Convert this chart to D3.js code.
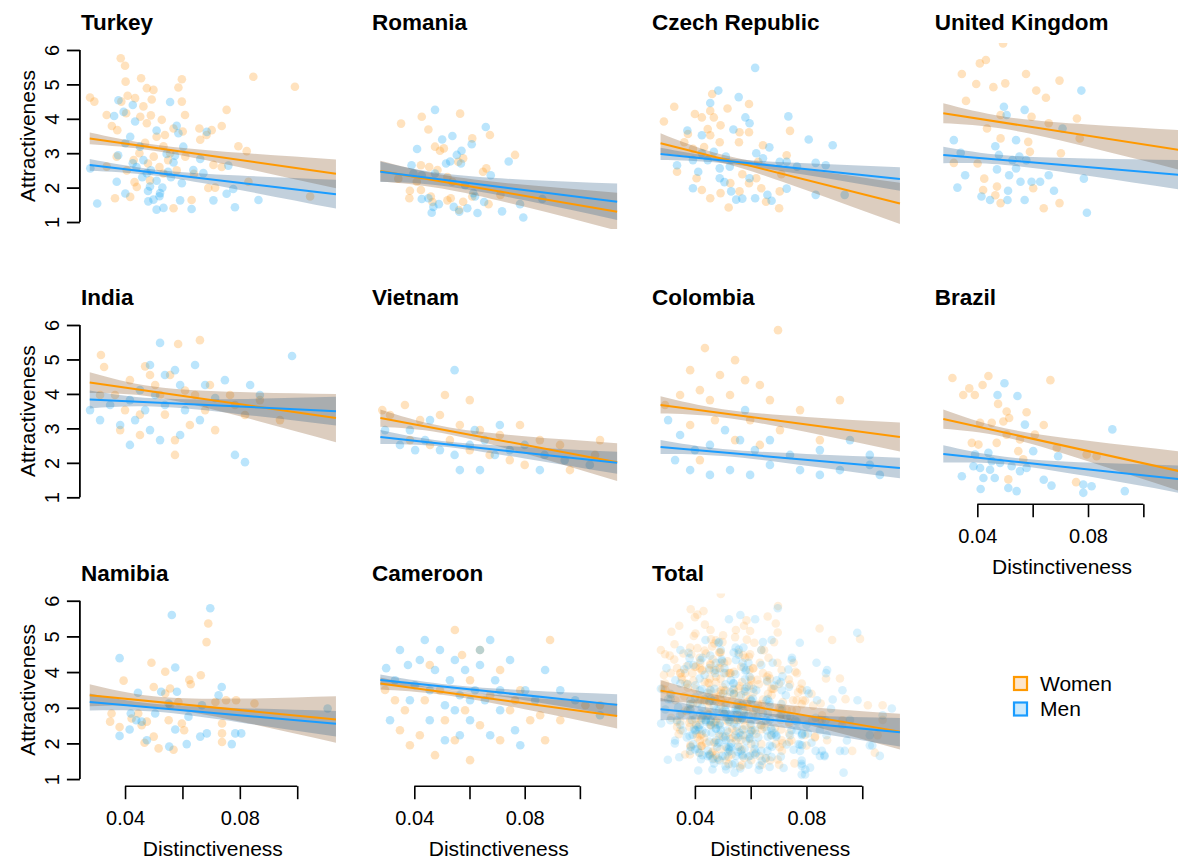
<!DOCTYPE html>
<html>
<head>
<meta charset="utf-8">
<script src="https://cdn.jsdelivr.net/npm/d3@7"></script>
<style>
  body { margin: 0; background: #fff; }
  svg { display: block; font-family: "Liberation Sans", Arial, sans-serif; }
</style>
</head>
<body>
<svg id="chart" width="1178" height="861"></svg>
<script>
// Panels, in reading order.
const countries = ["Turkey", "Romania", "Czech Republic", "United Kingdom", "India", "Vietnam",
  "Colombia", "Brazil", "Namibia", "Cameroon", "Total"];

const xRange = [0.0277, 0.1135];          // range of distinctiveness in the data
const bandKnots = [0.0277, 0.05, 0.08, 0.1135];
const yTicks = [1, 2, 3, 4, 5, 6];
const xTicks = [0.04, 0.06, 0.08, 0.10];
const xTickLabels = ["0.04", "", "0.08", ""];

// Fitted attractiveness at xRange[0] and xRange[1].
const womenFit = [[3.43, 2.40], [2.48, 1.30], [3.29, 1.54], [4.16, 3.09], [4.33, 3.30], [3.30, 2.02],
  [3.68, 2.75], [3.27, 1.75], [3.35, 2.67], [3.68, 2.77], [3.48, 2.33]];
const menFit = [[2.66, 1.81], [2.46, 1.59], [2.98, 2.25], [2.95, 2.37], [3.84, 3.50], [2.75, 2.00],
  [2.46, 1.85], [2.26, 1.52], [3.16, 2.55], [3.78, 3.08], [2.96, 2.31]];
// Half width of the confidence band at bandKnots.
const womenCI = [[0.17, 0.09, 0.21, 0.42], [0.30, 0.20, 0.32, 0.55], [0.29, 0.12, 0.30, 0.60],
  [0.29, 0.18, 0.33, 0.58], [0.30, 0.15, 0.35, 0.70], [0.25, 0.10, 0.25, 0.55],
  [0.25, 0.12, 0.22, 0.42], [0.28, 0.13, 0.30, 0.58], [0.31, 0.15, 0.32, 0.65],
  [0.17, 0.08, 0.17, 0.35], [0.30, 0.15, 0.25, 0.50]];
const menCI = [[0.17, 0.09, 0.21, 0.42], [0.30, 0.18, 0.30, 0.53], [0.18, 0.08, 0.17, 0.34],
  [0.24, 0.14, 0.25, 0.43], [0.26, 0.12, 0.22, 0.42], [0.20, 0.08, 0.17, 0.32],
  [0.20, 0.10, 0.17, 0.30], [0.25, 0.11, 0.20, 0.40], [0.24, 0.11, 0.20, 0.36],
  [0.15, 0.07, 0.14, 0.30], [0.31, 0.15, 0.22, 0.40]];

// Observations [distinctiveness, attractiveness].
const turkeyWomen = [[0.0278,4.62],[0.0293,4.50],[0.0336,4.11],[0.0354,3.79],[0.0373,3.67],[0.0365,1.69],
  [0.0385,5.76],[0.0400,5.54],[0.0402,5.08],[0.0409,4.67],[0.0387,4.50],[0.0404,4.16],[0.0435,4.60],
  [0.0456,5.18],[0.0476,4.89],[0.0499,4.84],[0.0493,4.56],[0.0464,4.36],[0.0453,4.06],[0.0476,3.87],
  [0.0490,4.10],[0.0510,3.48],[0.0539,3.53],[0.0534,3.20],[0.0557,3.00],[0.0598,5.15],[0.0586,4.91],
  [0.0598,4.50],[0.0609,4.11],[0.0601,3.63],[0.0659,3.72],[0.0684,3.53],[0.0702,3.67],[0.0737,3.79],
  [0.0754,4.26],[0.0795,3.20],[0.0824,3.06],[0.0847,5.22],[0.0992,4.93],[0.0830,2.17],[0.0737,2.60],
  [0.0714,2.00],[0.0690,1.99],[0.0632,1.64],[0.0569,1.40],[0.1045,1.74],[0.0534,2.41],[0.0487,2.21],
  [0.0441,2.02],[0.0418,1.73],[0.0406,2.50],[0.0336,2.61],[0.0371,2.90],[0.0433,2.16],[0.0528,3.97],
  [0.0569,3.72],[0.0662,3.39],[0.0708,2.66],[0.0450,3.00],[0.0480,2.70],[0.0500,2.90],[0.0520,2.60],
  [0.0550,2.80],[0.0430,2.80],[0.0470,3.30],[0.0580,2.50],[0.0610,2.90],[0.0640,2.40]];
const turkeyMen = [[0.0279,2.56],[0.0303,1.54],[0.0362,4.08],[0.0377,4.54],[0.0395,4.20],[0.0427,4.40],
  [0.0435,3.92],[0.0418,3.48],[0.0401,3.29],[0.0376,2.94],[0.0371,2.17],[0.0401,1.83],[0.0427,2.71],
  [0.0452,3.19],[0.0464,2.80],[0.0476,2.42],[0.0487,2.03],[0.0499,1.65],[0.0481,1.60],[0.0510,1.36],
  [0.0534,1.41],[0.0522,1.84],[0.0550,2.46],[0.0557,4.49],[0.0510,3.66],[0.0580,3.80],[0.0586,3.58],
  [0.0603,3.19],[0.0574,2.93],[0.0598,2.13],[0.0592,1.63],[0.0632,1.38],[0.0638,2.51],[0.0673,2.42],
  [0.0685,3.62],[0.0708,1.63],[0.0754,1.82],[0.0760,2.64],[0.0777,1.96],[0.0783,1.43],[0.0865,1.64],
  [0.0545,2.98],[0.0569,2.73],[0.0662,2.83],[0.0460,2.30],[0.0490,2.50],[0.0510,2.20],[0.0530,2.00],
  [0.0440,2.60],[0.0560,2.30],[0.0480,1.90],[0.0520,1.75]];
const romaniaWomen = [[0.0352,3.86],[0.0427,4.06],[0.0451,3.69],[0.0566,4.15],[0.0475,3.19],[0.0493,3.07],
  [0.0507,3.14],[0.0610,3.43],[0.0674,3.53],[0.0765,2.95],[0.0559,2.75],[0.0577,2.85],[0.0649,2.46],
  [0.0661,2.56],[0.0424,2.65],[0.0454,2.60],[0.0484,2.51],[0.0520,2.31],[0.0384,1.91],[0.0382,1.69],
  [0.0424,1.93],[0.0460,1.74],[0.0466,1.58],[0.0520,1.63],[0.0532,1.69],[0.0562,1.35],[0.0577,1.59],
  [0.0610,1.74],[0.0669,1.52],[0.0712,1.79],[0.0409,2.17],[0.0342,2.26],[0.0538,2.17]];
const romaniaMen = [[0.0475,4.26],[0.0659,3.76],[0.0538,3.50],[0.0501,3.40],[0.0410,3.12],[0.0608,3.26],
  [0.0571,3.07],[0.0554,2.95],[0.0569,2.70],[0.0515,2.70],[0.0530,2.76],[0.0742,2.76],[0.0390,2.65],
  [0.0397,2.41],[0.0427,2.36],[0.0475,2.41],[0.0677,2.36],[0.0584,2.07],[0.0620,1.74],[0.0427,1.67],
  [0.0451,1.69],[0.0489,1.52],[0.0469,1.44],[0.0463,1.27],[0.0543,1.44],[0.0563,1.30],[0.0592,1.40],
  [0.0629,1.26],[0.0653,1.58],[0.0718,1.31],[0.0783,1.52],[0.0795,1.13],[0.0864,1.67],[0.0614,1.84]];
const czechWomen = [[0.0289,3.92],[0.0326,4.35],[0.0336,2.46],[0.0375,3.56],[0.0400,4.14],[0.0425,4.04],
  [0.0455,4.23],[0.0462,4.72],[0.0468,4.04],[0.0446,3.70],[0.0455,3.52],[0.0492,3.81],[0.0517,4.30],
  [0.0560,3.61],[0.0594,4.43],[0.0594,3.61],[0.0558,3.32],[0.0489,3.32],[0.0433,3.18],[0.0393,3.13],
  [0.0362,3.32],[0.0406,2.27],[0.0425,1.93],[0.0455,1.69],[0.0492,1.84],[0.0521,1.42],[0.0527,2.13],
  [0.0560,1.89],[0.0594,2.13],[0.0620,2.27],[0.0638,1.98],[0.0655,1.59],[0.0644,3.23],[0.0741,3.65],
  [0.0729,2.94],[0.0704,1.89],[0.0702,1.40],[0.0710,2.39],[0.0570,2.39],[0.0627,2.75]];
const czechMen = [[0.0616,5.48],[0.0484,4.82],[0.0557,4.63],[0.0455,4.46],[0.0373,3.66],[0.0425,3.52],
  [0.0538,3.69],[0.0581,4.04],[0.0596,3.87],[0.0735,4.07],[0.0808,3.40],[0.0894,3.23],[0.0336,2.65],
  [0.0393,2.80],[0.0425,3.00],[0.0446,2.80],[0.0468,3.04],[0.0511,2.90],[0.0489,2.56],[0.0525,2.61],
  [0.0620,3.00],[0.0667,3.17],[0.0644,2.85],[0.0704,2.75],[0.0729,2.75],[0.0766,2.61],[0.0833,2.72],
  [0.0869,2.65],[0.0393,1.98],[0.0412,2.46],[0.0506,2.16],[0.0530,1.89],[0.0548,1.65],[0.0570,1.68],
  [0.0616,1.69],[0.0660,1.79],[0.0675,1.62],[0.0729,1.97],[0.0833,1.79],[0.0937,1.79],[0.0489,2.27],
  [0.0596,2.27]];
const ukWomen = [[0.0344,5.30],[0.0409,5.61],[0.0431,5.71],[0.0493,6.19],[0.0576,5.30],[0.0697,5.11],
  [0.0396,5.01],[0.0458,4.92],[0.0501,5.03],[0.0613,4.82],[0.0648,4.61],[0.0359,4.52],[0.0760,4.01],
  [0.0435,3.72],[0.0484,4.11],[0.0596,4.06],[0.0658,3.87],[0.0770,3.43],[0.0484,3.43],[0.0584,3.33],
  [0.0702,3.00],[0.0315,2.72],[0.0401,2.70],[0.0471,2.03],[0.0421,1.93],[0.0465,1.78],[0.0484,1.55],
  [0.0602,1.98],[0.0640,1.40],[0.0697,1.55],[0.0590,3.04],[0.0425,2.26]];
const ukMen = [[0.0315,3.38],[0.0340,3.01],[0.0356,2.36],[0.0328,2.00],[0.0496,4.35],[0.0571,4.26],
  [0.0776,4.82],[0.0506,4.11],[0.0540,3.38],[0.0465,3.20],[0.0478,2.95],[0.0552,2.90],[0.0527,2.80],
  [0.0540,2.56],[0.0471,2.53],[0.0515,2.36],[0.0556,2.17],[0.0596,2.17],[0.0627,2.17],[0.0658,2.36],
  [0.0708,3.72],[0.0785,2.26],[0.0677,1.91],[0.0511,1.91],[0.0415,1.74],[0.0446,1.64],[0.0509,1.64],
  [0.0571,1.64],[0.0796,1.27],[0.0577,2.80]];
const indiaWomen = [[0.0316,5.13],[0.0327,4.78],[0.0661,5.56],[0.0585,5.45],[0.0470,4.80],[0.0505,4.26],
  [0.0417,4.40],[0.0557,4.55],[0.0365,3.97],[0.0400,3.53],[0.0452,3.40],[0.0522,3.97],[0.0609,4.10],
  [0.0696,4.26],[0.0783,3.68],[0.0870,3.82],[0.0383,2.95],[0.0452,2.81],[0.0574,2.23],[0.0626,3.10],
  [0.0714,2.95],[0.0940,3.24],[0.0539,3.40],[0.0679,3.53],[0.0766,3.97],[0.0313,3.97],[0.0487,4.55],
  [0.0644,3.97],[0.0818,3.39],[0.0574,2.66]];
const indiaMen = [[0.0522,5.48],[0.0982,5.10],[0.0487,4.84],[0.0539,4.55],[0.0574,4.69],[0.0644,4.84],
  [0.0452,4.11],[0.0505,3.97],[0.0592,4.26],[0.0679,4.26],[0.0748,4.40],[0.0836,4.26],[0.0348,3.68],
  [0.0417,3.82],[0.0470,3.53],[0.0539,3.68],[0.0609,3.53],[0.0661,3.24],[0.0383,3.10],[0.0435,3.24],
  [0.0487,2.95],[0.0522,2.66],[0.0417,2.52],[0.0592,2.81],[0.0783,2.23],[0.0818,2.02],[0.0278,3.53],
  [0.0313,3.24],[0.0870,3.97],[0.0714,3.88]];
const vietnamWomen = [[0.0284,3.53],[0.0312,3.39],[0.0366,3.68],[0.0421,3.24],[0.0493,3.39],[0.0565,3.10],
  [0.0638,2.95],[0.0710,2.81],[0.0783,3.10],[0.0855,2.66],[0.0928,2.52],[0.1055,2.23],[0.0384,2.66],
  [0.0457,2.52],[0.0529,2.66],[0.0601,2.37],[0.0673,2.23],[0.0746,2.08],[0.0800,1.94],[0.0964,1.79],
  [0.0511,3.97],[0.0601,3.82],[0.1073,2.66]];
const vietnamMen = [[0.0546,4.69],[0.0294,2.95],[0.0348,2.52],[0.0403,2.37],[0.0439,2.66],[0.0493,2.37],
  [0.0546,2.23],[0.0601,2.52],[0.0655,2.66],[0.0692,2.23],[0.0746,2.37],[0.0800,2.52],[0.0872,2.23],
  [0.0945,2.08],[0.1036,1.94],[0.0457,3.24],[0.0384,2.95],[0.0710,3.10],[0.0565,1.79],[0.0855,1.79],
  [0.0638,1.79],[0.0619,2.95]];
const colombiaWomen = [[0.0698,5.85],[0.0436,5.33],[0.0383,4.69],[0.0490,4.55],[0.0544,4.98],[0.0580,4.40],
  [0.0633,4.26],[0.0418,4.11],[0.0347,3.97],[0.0454,3.82],[0.0526,3.97],[0.0669,3.82],[0.0777,3.53],
  [0.0293,3.68],[0.0383,3.10],[0.0472,3.24],[0.0598,3.24],[0.0544,2.66],[0.0705,2.95],[0.0920,3.82],
  [0.0848,2.66],[0.0633,2.52],[0.0418,2.08]];
const colombiaMen = [[0.0304,3.24],[0.0347,2.81],[0.0400,2.37],[0.0454,2.52],[0.0508,2.95],[0.0562,2.66],
  [0.0615,2.37],[0.0669,2.66],[0.0741,2.23],[0.0848,2.37],[0.0956,2.66],[0.1027,2.23],[0.0329,2.08],
  [0.0383,1.79],[0.0454,1.65],[0.0526,1.79],[0.0598,1.65],[0.0669,1.94],[0.0777,1.79],[0.0848,1.65],
  [0.0920,1.79],[0.1027,1.94],[0.1063,1.65],[0.0580,3.53]];
const brazilWomen = [[0.0349,3.97],[0.0371,4.16],[0.0391,3.97],[0.0419,4.26],[0.0475,3.71],[0.0506,3.49],
  [0.0515,3.30],[0.0578,3.47],[0.0494,3.20],[0.0452,3.16],[0.0410,3.16],[0.0380,2.58],[0.0404,2.53],
  [0.0470,2.58],[0.0506,2.82],[0.0548,2.34],[0.0566,2.10],[0.0512,1.52],[0.0640,3.10],[0.0664,4.40],
  [0.0608,2.82],[0.0687,2.43],[0.0757,1.44],[0.0795,2.24],[0.0831,2.19],[0.0554,2.68],[0.0310,4.46],
  [0.0440,4.52]];
const brazilMen = [[0.0344,1.61],[0.0412,1.24],[0.0422,1.56],[0.0463,1.56],[0.0446,1.80],[0.0410,1.85],
  [0.0386,1.90],[0.0440,2.29],[0.0452,2.05],[0.0524,1.90],[0.0512,1.27],[0.0542,1.18],[0.0578,1.85],
  [0.0640,1.51],[0.0602,2.34],[0.0572,3.11],[0.0668,1.34],[0.0692,2.19],[0.0783,1.37],[0.0783,1.13],
  [0.0813,1.32],[0.0888,2.97],[0.0933,1.18],[0.0392,2.24],[0.0482,2.00],[0.0554,1.76],[0.0498,4.31],
  [0.0473,3.97],[0.0545,3.94]];
const namibiaWomen = [[0.0348,2.61],[0.0353,2.84],[0.0395,3.76],[0.0381,2.46],[0.0423,2.70],[0.0446,2.84],
  [0.0458,2.51],[0.0476,2.61],[0.0468,2.02],[0.0492,4.26],[0.0500,3.58],[0.0500,2.19],[0.0517,1.86],
  [0.0540,4.01],[0.0540,3.40],[0.0557,3.54],[0.0557,3.07],[0.0552,2.65],[0.0569,1.82],[0.0586,3.16],
  [0.0598,2.56],[0.0606,2.37],[0.0624,3.78],[0.0629,3.66],[0.0664,3.91],[0.0684,4.84],[0.0690,5.36],
  [0.0715,3.16],[0.0738,2.56],[0.0738,2.04],[0.0738,2.28],[0.0752,3.21],[0.0787,3.21],[0.0851,3.12]];
const namibiaMen = [[0.0381,4.39],[0.0381,2.21],[0.0416,2.39],[0.0420,2.84],[0.0439,2.65],[0.0445,3.42],
  [0.0458,2.61],[0.0476,2.09],[0.0505,2.84],[0.0526,3.45],[0.0552,3.12],[0.0554,1.91],[0.0563,5.60],
  [0.0575,4.13],[0.0575,2.39],[0.0581,3.45],[0.0615,1.98],[0.0621,2.75],[0.0662,2.19],[0.0668,3.07],
  [0.0685,2.28],[0.0697,5.79],[0.0726,3.35],[0.0737,3.58],[0.0772,1.98],[0.0784,2.28],[0.0805,2.28],
  [0.1106,2.98]];
const cameroonWomen = [[0.0294,3.50],[0.0330,3.21],[0.0366,2.93],[0.0348,2.37],[0.0384,1.95],[0.0420,2.23],
  [0.0438,3.21],[0.0493,3.49],[0.0511,2.65],[0.0547,2.09],[0.0584,2.93],[0.0602,3.77],[0.0638,4.62],
  [0.0638,2.51],[0.0675,3.35],[0.0711,2.09],[0.0747,2.93],[0.0784,3.49],[0.0820,2.65],[0.0874,2.09],
  [0.0929,2.65],[0.1020,3.07],[0.1073,3.07],[0.0892,4.90],[0.0547,5.18],[0.0573,4.48],[0.0456,4.20],
  [0.0711,4.06],[0.0765,3.21],[0.0602,1.53],[0.0475,1.67],[0.0856,2.79]];
const cameroonMen = [[0.0298,4.11],[0.0330,3.77],[0.0348,4.62],[0.0377,4.20],[0.0402,3.63],[0.0420,4.34],
  [0.0438,4.90],[0.0456,3.49],[0.0475,4.06],[0.0493,4.62],[0.0511,3.07],[0.0529,3.77],[0.0547,4.34],
  [0.0565,3.35],[0.0584,4.06],[0.0602,2.65],[0.0620,3.49],[0.0638,4.20],[0.0656,3.21],[0.0675,4.90],
  [0.0693,3.77],[0.0711,2.93],[0.0747,4.34],[0.0765,2.37],[0.0802,3.49],[0.0838,3.21],[0.0874,4.06],
  [0.0929,3.49],[0.0983,3.21],[0.0456,2.65],[0.0511,2.09],[0.0565,2.23],[0.0675,2.23],[0.0384,3.21],
  [0.0312,2.65],[0.0547,2.93],[0.0784,1.95],[0.1073,2.79],[0.0638,4.62],[0.0711,3.49],[0.0602,3.21]];

const womenPoints = [turkeyWomen, romaniaWomen, czechWomen, ukWomen, indiaWomen, vietnamWomen,
  colombiaWomen, brazilWomen, namibiaWomen, cameroonWomen];
const menPoints = [turkeyMen, romaniaMen, czechMen, ukMen, indiaMen, vietnamMen,
  colombiaMen, brazilMen, namibiaMen, cameroonMen];
// Total pools every country.
womenPoints.push(d3.merge(womenPoints));
menPoints.push(d3.merge(menPoints));

const WOMEN = "#ff9900", MEN = "#1a9cff";
const WOMEN_BAND = "rgba(139,90,43,0.3)", MEN_BAND = "rgba(54,100,139,0.3)";
const womenPt = a => `rgba(255,160,40,${a})`;
const menPt = a => `rgba(30,170,245,${a})`;

// Layout of the plot regions (px).
const colLeft = [79.9, 370.9, 651.0, 933.8];
const colWidth = [265.9, 255.7, 258.5, 256.4];
const rowTop = [43.1, 318.1, 593.6];
const rowHeight = [185.8, 186.1, 192.6];

const svg = d3.select("#chart");
svg.append("rect").attr("width", 1178).attr("height", 861).attr("fill", "#fff");

const xPad = (xRange[1] - xRange[0]) * 0.04;
const xDomain = [xRange[0] - xPad, xRange[1] + xPad];
const yDomain = [0.8, 6.2];

countries.forEach((name, i) => {
  const c = i % 4, r = Math.floor(i / 4);
  const left = colLeft[c], top = rowTop[r];
  const x = d3.scaleLinear().domain(xDomain).range([left, left + colWidth[c]]);
  const y = d3.scaleLinear().domain(yDomain).range([top + rowHeight[r], top]);
  const alpha = name === "Total" ? 0.17 : 0.3;

  const clipId = "clip" + i;
  svg.append("clipPath").attr("id", clipId)
    .append("rect")
    .attr("x", left).attr("y", top)
    .attr("width", colWidth[c]).attr("height", rowHeight[r]);

  const g = svg.append("g").attr("clip-path", `url(#${clipId})`);

  g.append("g").selectAll("circle")
    .data(womenPoints[i]).join("circle")
    .attr("cx", d => x(d[0])).attr("cy", d => y(d[1])).attr("r", 4.3)
    .attr("fill", womenPt(alpha));
  g.append("g").selectAll("circle")
    .data(menPoints[i]).join("circle")
    .attr("cx", d => x(d[0])).attr("cy", d => y(d[1])).attr("r", 4.3)
    .attr("fill", menPt(alpha));

  const series = [
    { fit: womenFit[i], ci: womenCI[i], band: WOMEN_BAND, line: WOMEN },
    { fit: menFit[i], ci: menCI[i], band: MEN_BAND, line: MEN }
  ];
  series.forEach(s => {
    const fit = d3.scaleLinear().domain(xRange).range(s.fit);
    const area = d3.area()
      .curve(d3.curveNatural)
      .x(d => x(d))
      .y0((d, k) => y(fit(d) - s.ci[k]))
      .y1((d, k) => y(fit(d) + s.ci[k]));
    g.append("path").datum(bandKnots).attr("d", area).attr("fill", s.band);
  });
  series.forEach(s => {
    const fit = d3.scaleLinear().domain(xRange).range(s.fit);
    const line = d3.line().x(d => x(d)).y(d => y(fit(d)));
    g.append("path").datum(xRange).attr("d", line)
      .attr("fill", "none").attr("stroke", s.line).attr("stroke-width", 2);
  });

  svg.append("text")
    .attr("x", left + 1).attr("y", top - 13)
    .attr("font-size", 22.5).attr("font-weight", "bold")
    .text(name);

  if (c === 0) {
    const ya = svg.append("g")
      .attr("transform", `translate(${left},0)`)
      .call(d3.axisLeft(y).tickValues(yTicks).tickSize(13).tickSizeOuter(0)
        .tickFormat(d3.format("d")));
    ya.select(".domain").attr("d", `M0,${y(yTicks[0])}V${y(yTicks[yTicks.length - 1])}`)
      .attr("stroke-width", 1.8);
    ya.selectAll(".tick line").attr("stroke-width", 1.8);
    ya.selectAll(".tick text")
      .attr("x", 0).attr("y", -21).attr("dy", 0)
      .attr("transform", "rotate(-90)")
      .attr("text-anchor", "middle")
      .attr("fill", "#000")
      .attr("font-size", 20)
      .attr("font-family", "Liberation Sans, Arial, sans-serif");
    svg.append("text")
      .attr("transform", `translate(35,${top + rowHeight[r] / 2}) rotate(-90)`)
      .attr("text-anchor", "middle").attr("font-size", 21)
      .text("Attractiveness");
  }

  if (i >= 7) {
    const bottom = top + rowHeight[r];
    const xa = svg.append("g")
      .attr("transform", `translate(0,${bottom})`)
      .call(d3.axisBottom(x).tickValues(xTicks).tickSize(13).tickSizeOuter(0)
        .tickFormat((d, k) => xTickLabels[k]));
    xa.select(".domain").attr("d", `M${x(xTicks[0])},0H${x(xTicks[xTicks.length - 1])}`)
      .attr("stroke-width", 1.6);
    xa.selectAll(".tick line").attr("stroke-width", 1.6);
    xa.selectAll(".tick text")
      .attr("y", 39).attr("dy", 0)
      .attr("fill", "#000")
      .attr("font-size", 20)
      .attr("font-family", "Liberation Sans, Arial, sans-serif");
    svg.append("text")
      .attr("x", left + colWidth[c] / 2).attr("y", bottom + 70)
      .attr("text-anchor", "middle").attr("font-size", 21)
      .text("Distinctiveness");
  }
});

// Legend.
const legendItems = ["Women", "Men"];
const legendStroke = [WOMEN, MEN];
const legendFill = ["#fde6cc", "#cdeafc"];
const legend = svg.append("g").attr("transform", "translate(1014,677)");
legendItems.forEach((label, k) => {
  legend.append("rect")
    .attr("x", 0).attr("y", k * 25.5)
    .attr("width", 13).attr("height", 13)
    .attr("fill", legendFill[k]).attr("stroke", legendStroke[k]).attr("stroke-width", 2.2);
  legend.append("text")
    .attr("x", 26).attr("y", k * 25.5 + 13.5)
    .attr("font-size", 21)
    .text(label);
});
</script>
</body>
</html>
